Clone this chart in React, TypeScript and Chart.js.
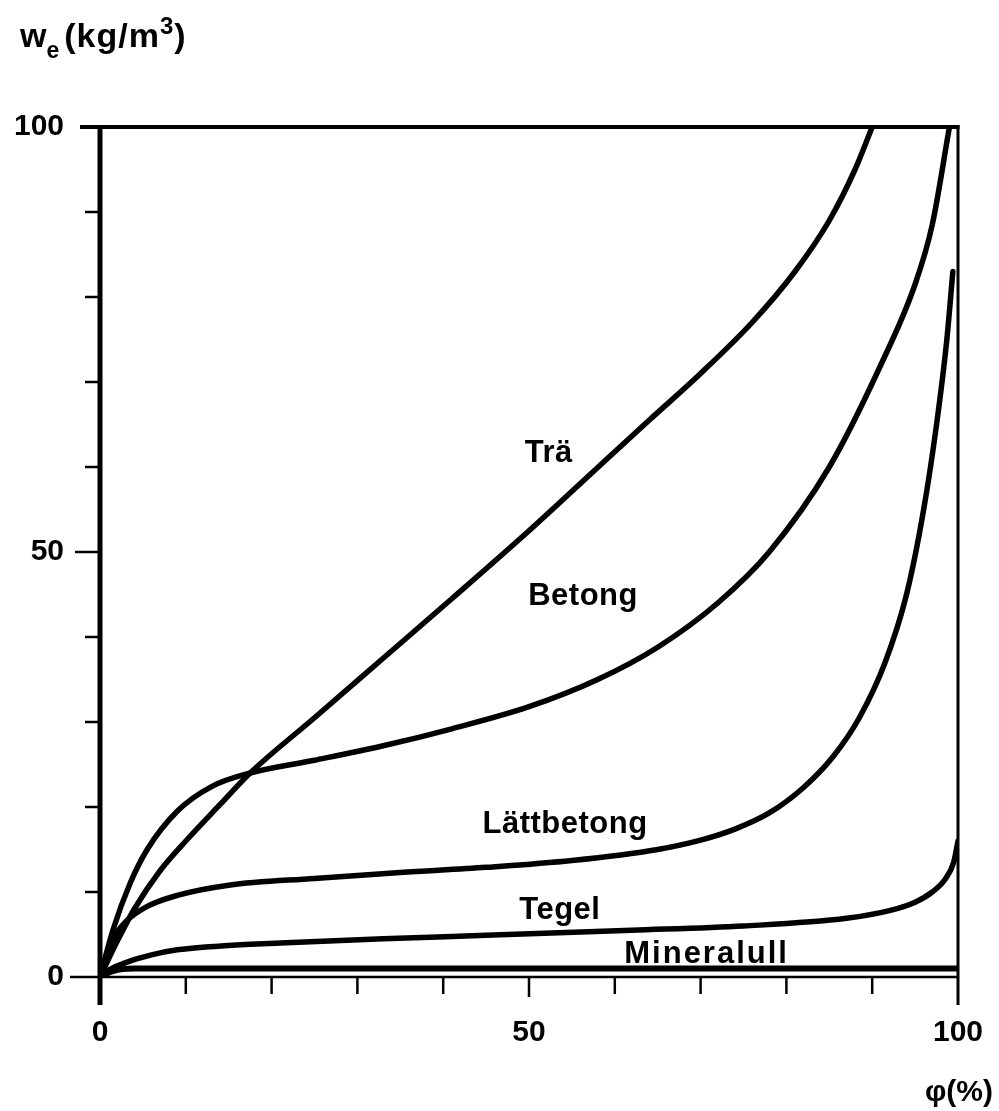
import React, { useEffect, useRef } from "react";
import { Chart, registerables } from "chart.js";

Chart.register(...registerables);

// ---- Data (φ in %, w_e in kg/m³) ----
const traPhi = [0, 2, 4, 7, 10, 14, 17.5, 25, 33, 41, 50, 57, 64, 70, 76, 81, 85, 88, 90];
const traW = [0, 4.2, 8, 12.5, 16, 20.3, 24, 30.5, 37.5, 44.5, 52.5, 59, 65.5, 71, 77, 83, 89, 95, 100];

const betongPhi = [0, 1.5, 3.5, 5.5, 9, 13, 17.5, 25, 33, 41, 50, 58, 65, 72, 78, 85, 91, 95, 97, 99];
const betongW = [0, 5.5, 11, 15, 19.5, 22.4, 24, 25.5, 27.2, 29.2, 31.8, 35, 38.8, 44, 50, 60, 72, 81.5, 88.5, 100];

const lattPhi = [0, 1.5, 3, 5.5, 9, 15, 25, 35, 45, 55, 65, 70, 74, 78, 82, 85.5, 88.5, 91.5, 94, 96, 97.5, 98.7, 99.4];
const lattW = [0, 4.4, 6.5, 8.3, 9.6, 10.8, 11.6, 12.3, 12.9, 13.7, 15, 16.1, 17.4, 19.3, 22.3, 26, 30.5, 37, 45, 55, 65, 75, 83];

const tegelPhi = [0, 1, 3, 6, 9, 15, 21, 33, 45, 62, 75, 87, 92, 95, 97, 98.5, 99.5, 100];
const tegelW = [0, 0.8, 1.7, 2.6, 3.2, 3.7, 4.0, 4.5, 4.9, 5.5, 6.0, 6.9, 7.8, 8.8, 10, 11.5, 13.5, 16];

const mineralPhi = [0, 1.5, 4, 100];
const mineralW = [0, 0.7, 1, 1];

const seriesNames = ["Trä", "Betong", "Lättbetong", "Tegel", "Mineralull"];
const labelPhi = [52.3, 56.3, 54.2, 53.6, 70.7];
const labelW = [60.6, 43.8, 16.9, 6.8, 1.6];

const majorTicks = [0, 50, 100];
const minorTicks = [10, 20, 30, 40, 60, 70, 80, 90];

const yTitleMain = "w";
const yTitleSub = "e";
const yTitleUnit = "(kg/m";
const yTitleSup = "3";
const yTitleEnd = ")";
const xTitle = "φ(%)";

const FONT = "'Liberation Sans', Arial, sans-serif";

function pts(xs: number[], ys: number[]) {
  return xs.map((x, i) => ({ x, y: ys[i] }));
}

const decorPlugin = {
  id: "decor",
  afterDraw(chart: any) {
    const ctx = chart.ctx as CanvasRenderingContext2D;
    const xs = chart.scales.x;
    const ys = chart.scales.y;
    const a = chart.chartArea;
    ctx.save();
    ctx.strokeStyle = "#000";
    ctx.fillStyle = "#000";
    ctx.lineCap = "butt";

    const line = (x1: number, y1: number, x2: number, y2: number, w: number) => {
      ctx.lineWidth = w;
      ctx.beginPath();
      ctx.moveTo(x1, y1);
      ctx.lineTo(x2, y2);
      ctx.stroke();
    };

    const x0 = xs.getPixelForValue(0);
    const x100 = xs.getPixelForValue(100);
    const y0 = ys.getPixelForValue(0);
    const y100 = ys.getPixelForValue(100);

    // frame
    line(x0, y100 - 2, x0, y0 + 28, 5); // left axis (+ 0 tick)
    line(x0 - 20, y100, x100 + 1.5, y100, 4); // top (+100 tick)
    line(x100, y100 - 2, x100, y0 + 28, 3); // right (+100 tick)
    line(x0 - 30, y0, x100, y0, 2.5); // bottom (+0 tick)

    // y ticks
    minorTicks.forEach((v) => {
      const y = ys.getPixelForValue(v);
      line(x0 - 15, y, x0, y, 2.5);
    });
    {
      const y = ys.getPixelForValue(majorTicks[1]);
      line(x0 - 25, y, x0, y, 2.5);
    }
    // x ticks
    minorTicks.forEach((v) => {
      const x = xs.getPixelForValue(v);
      line(x, y0, x, y0 + 17, 2.5);
    });
    {
      const x = xs.getPixelForValue(majorTicks[1]);
      line(x, y0, x, y0 + 20, 2.5);
    }

    // curve labels
    ctx.textAlign = "center";
    ctx.textBaseline = "alphabetic";
    seriesNames.forEach((name, i) => {
      ctx.font = `bold 31px ${FONT}`;
      (ctx as any).letterSpacing = name === "Mineralull" ? "2px" : "0.5px";
      ctx.fillText(name, xs.getPixelForValue(labelPhi[i]), ys.getPixelForValue(labelW[i]));
    });
    (ctx as any).letterSpacing = "0px";

    // y title
    ctx.textAlign = "left";
    let tx = a.left - 80;
    const by = a.top - 80;
    (ctx as any).letterSpacing = "1px";
    ctx.font = `bold 34px ${FONT}`;
    ctx.fillText(yTitleMain, tx, by);
    tx += ctx.measureText(yTitleMain).width;
    ctx.font = `bold 23px ${FONT}`;
    ctx.fillText(yTitleSub, tx - 1, by + 11);
    tx += ctx.measureText(yTitleSub).width + 3;
    ctx.font = `bold 34px ${FONT}`;
    ctx.fillText(yTitleUnit, tx, by);
    tx += ctx.measureText(yTitleUnit).width;
    ctx.font = `bold 24px ${FONT}`;
    ctx.fillText(yTitleSup, tx, by - 13);
    tx += ctx.measureText(yTitleSup).width;
    ctx.font = `bold 34px ${FONT}`;
    ctx.fillText(yTitleEnd, tx, by);
    (ctx as any).letterSpacing = "0px";

    // x title
    ctx.textAlign = "right";
    ctx.font = `bold 30px ${FONT}`;
    ctx.fillText(xTitle, a.right + 35, a.bottom + 124);

    ctx.restore();
  },
};

export default function App() {
  const ref = useRef<HTMLCanvasElement | null>(null);

  useEffect(() => {
    if (!ref.current) return;
    const common = {
      showLine: true,
      borderColor: "#000",
      backgroundColor: "#000",
      borderWidth: 5.5,
      pointRadius: 0,
      pointHoverRadius: 0,
      cubicInterpolationMode: "monotone" as const,
      borderCapStyle: "round" as const,
      borderJoinStyle: "round" as const,
      fill: false,
    };
    const chart = new Chart(ref.current, {
      type: "scatter",
      data: {
        datasets: [
          { ...common, label: seriesNames[0], data: pts(traPhi, traW) },
          { ...common, label: seriesNames[1], data: pts(betongPhi, betongW) },
          { ...common, label: seriesNames[2], data: pts(lattPhi, lattW) },
          { ...common, label: seriesNames[3], data: pts(tegelPhi, tegelW) },
          { ...common, label: seriesNames[4], data: pts(mineralPhi, mineralW), borderWidth: 6 },
        ],
      },
      options: {
        responsive: false,
        animation: false,
        events: [],
        layout: { padding: { left: 0, top: 127, right: 41, bottom: 0 } },
        plugins: { legend: { display: false }, tooltip: { enabled: false }, title: { display: false } },
        scales: {
          x: {
            type: "linear",
            min: 0,
            max: 100,
            grid: { display: false, drawTicks: false },
            border: { display: false },
            afterFit: (s: any) => {
              s.height = 134;
              s.paddingLeft = 0;
              s.paddingRight = 0;
            },
            ticks: {
              stepSize: 10,
              autoSkip: false,
              maxRotation: 0,
              padding: 38,
              color: "#000",
              font: { family: FONT, weight: "bold", size: 30 },
              callback: (v: any) => (majorTicks.includes(Number(v)) ? String(v) : ""),
            },
          },
          y: {
            type: "linear",
            min: 0,
            max: 100,
            grid: { display: false, drawTicks: false },
            border: { display: false },
            afterFit: (s: any) => {
              s.width = 100;
              s.paddingTop = 0;
              s.paddingBottom = 0;
            },
            ticks: {
              stepSize: 10,
              autoSkip: false,
              padding: 36,
              color: "#000",
              font: { family: FONT, weight: "bold", size: 30 },
              callback: (v: any) => (majorTicks.includes(Number(v)) ? String(v) : ""),
            },
          },
        },
      },
      plugins: [decorPlugin],
    });
    return () => chart.destroy();
  }, []);

  return (
    <div style={{ position: "absolute", left: 0, top: 0, width: 999, height: 1111, background: "#fff" }}>
      <canvas ref={ref} width={999} height={1111} style={{ display: "block" }} />
    </div>
  );
}
